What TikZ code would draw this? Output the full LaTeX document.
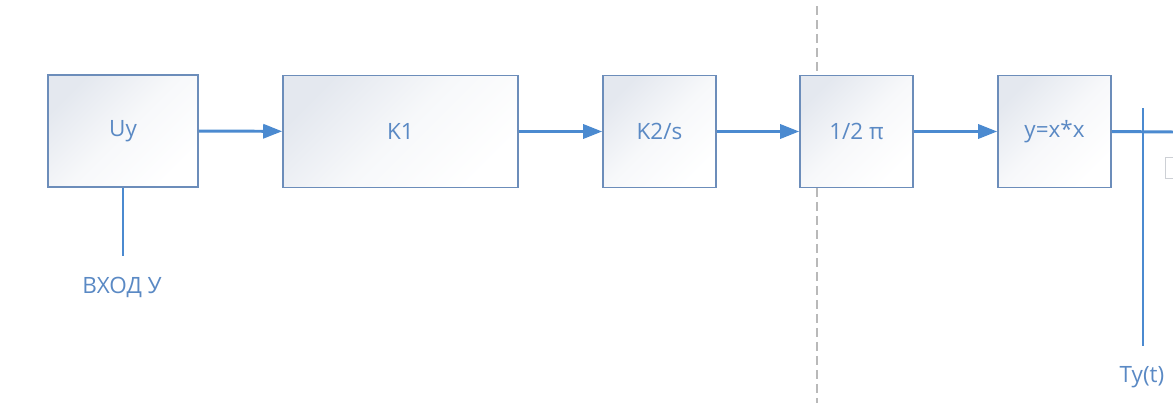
\documentclass[tikz,border=0pt]{standalone}
\usepackage{fontspec}
\setmainfont{Open Sans}
\usetikzlibrary{arrows.meta}
\definecolor{boxline}{HTML}{6C8DBA}
\definecolor{boxfill}{HTML}{E4E8EF}
\definecolor{flow}{HTML}{4B8AD0}
\definecolor{txt}{HTML}{5A89C4}
\definecolor{cutline}{HTML}{CDD0D5}
\begin{document}
\begin{tikzpicture}[x=0.02cm,y=-0.02cm]
\tikzstyle{block}=[draw=boxline,line width=0.9pt,top color=boxfill,bottom color=white,middle color=white!70!boxfill,shading angle=45,text=txt,font=\fontsize{12.8}{15}\selectfont,minimum height=112*0.02cm,inner sep=0pt]
\tikzstyle{flowarrow}=[draw=flow,line width=1.7pt,-{Triangle[length=10.8pt,width=8pt]}]
\tikzstyle{tap}=[draw=flow,line width=0.8pt]
\tikzstyle{tag}=[text=txt,font=\fontsize{12.8}{15}\selectfont,inner sep=0pt]
\useasboundingbox (0,0) rectangle (1173,403);
\draw[gray!55,line width=0.6pt,dash pattern=on 0.18cm off 0.1cm] (817,6) -- (817,403);
\path (123,131) node[block,minimum width=150*0.02cm](uy){Uy} (400.5,131.5) node[block,minimum width=235*0.02cm](k1){K1};
\path (659.5,131.5) node[block,minimum width=113*0.02cm](k2){K2/s} (856.5,131.5) node[block,minimum width=113*0.02cm](half){1/2 π} (1054.5,131.5) node[block,minimum width=113*0.02cm](sq){y=x*x};
\path (1165,157) node[draw=cutline,line width=0.6pt,fill=white,anchor=north west,minimum width=30*0.02cm,minimum height=21*0.02cm](cut){};
\path (122,287) node[tag](vhod){ВХОД У} (1142,377) node[tag](ty){Ty(t)};
\coordinate (inbot) at (123,256);
\coordinate (outend) at (1173,132);
\coordinate (tytop) at (1143,108);
\coordinate (tybot) at (1143,346);
\draw[flowarrow] (uy) -- (k1);
\draw[flowarrow] (k1) -- (k2);
\draw[flowarrow] (k2) -- (half);
\draw[flowarrow] (half) -- (sq);
\draw[draw=flow,line width=1.7pt] (sq.east) -- (outend);
\draw[tap] (uy.south) -- (inbot);
\draw[tap] (tytop) -- (tybot);
\end{tikzpicture}
\end{document}
